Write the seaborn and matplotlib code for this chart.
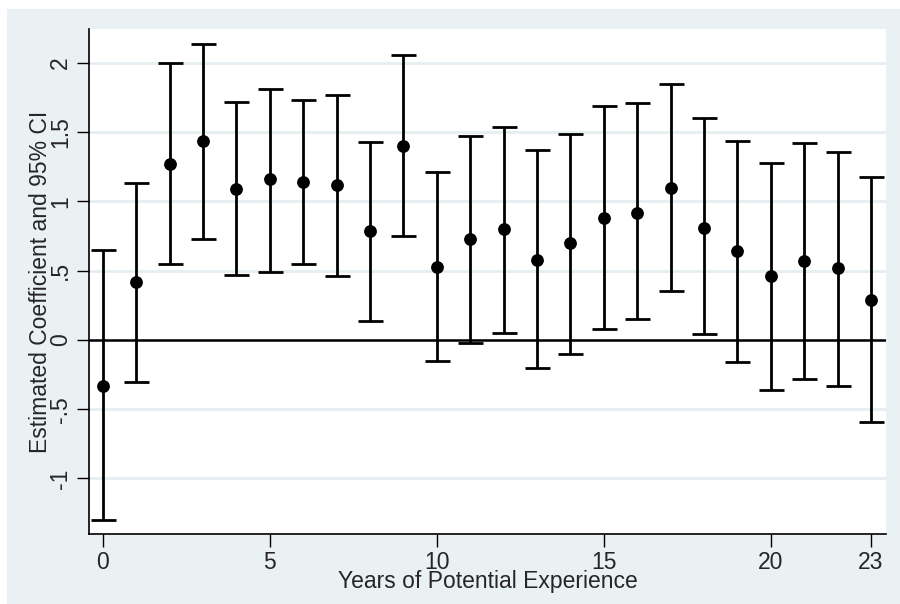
import numpy as np
import pandas as pd
import matplotlib
matplotlib.use("Agg")
import matplotlib.pyplot as plt
import seaborn as sns
from matplotlib.patches import Rectangle

# years of potential experience
years = list(range(24))
# point estimates
coef = [-0.33, 0.42, 1.27, 1.44, 1.09, 1.16, 1.14, 1.12, 0.79, 1.40, 0.53, 0.73,
        0.80, 0.58, 0.70, 0.88, 0.92, 1.10, 0.81, 0.64, 0.46, 0.57, 0.52, 0.29]
# 95% CI bounds
ci_low = [-1.30, -0.30, 0.55, 0.73, 0.47, 0.49, 0.55, 0.46, 0.14, 0.75, -0.15, -0.02,
          0.05, -0.20, -0.10, 0.08, 0.15, 0.35, 0.04, -0.16, -0.36, -0.28, -0.33, -0.59]
ci_high = [0.65, 1.13, 2.00, 2.14, 1.72, 1.81, 1.73, 1.77, 1.43, 2.06, 1.21, 1.47,
           1.54, 1.37, 1.49, 1.69, 1.71, 1.85, 1.60, 1.44, 1.28, 1.42, 1.36, 1.18]

xticks = [0, 5, 10, 15, 20, 23]
yticks = [-1, -0.5, 0, 0.5, 1, 1.5, 2]
ytick_labels = ["-1", "-.5", "0", ".5", "1", "1.5", "2"]

df = pd.DataFrame({"year": years, "coef": coef, "lo": ci_low, "hi": ci_high})

sns.set_style("white")
plt.rcParams['font.family'] = ['Liberation Sans', 'DejaVu Sans']

bg = "#eaf1f3"
fs = 16.5
fig = plt.figure(figsize=(9, 6.04), dpi=100)
fig.patch.set_facecolor("white")
fig.patches.append(Rectangle((7 / 900, 0), 1 - 7 / 900, 1 - 9 / 604,
                             transform=fig.transFigure, facecolor=bg,
                             edgecolor="none", zorder=-10))

ax = fig.add_axes([89 / 900, 1 - 534.3 / 604, (886 - 89) / 900, (534.3 - 29.3) / 604])
ax.set_facecolor("white")

# grid lines
for t in yticks:
    ax.axhline(t, color="#e5eef0", lw=2, zorder=0)
ax.axhline(0, color="black", lw=1.8, zorder=1)

ax.errorbar(df["year"], df["coef"],
            yerr=[df["coef"] - df["lo"], df["hi"] - df["coef"]],
            fmt="none", ecolor="black", elinewidth=2, capsize=9, capthick=2, zorder=2)
sns.scatterplot(data=df, x="year", y="coef", ax=ax, color="black", s=85,
                edgecolor="black", linewidth=0, zorder=3)

ax.set_xlim(-0.41, 23.45)
ax.set_ylim(-1.403, 2.243)
ax.set_xticks(xticks)
ax.set_xticklabels([str(t) for t in xticks], fontsize=fs)
ax.set_yticks(yticks)
ax.set_yticklabels(ytick_labels, fontsize=fs, rotation=90, va="center")
ax.tick_params(axis="both", direction="out", length=9, width=1, color="black",
               left=True, bottom=True, pad=3)

for s in ["top", "right"]:
    ax.spines[s].set_visible(False)
for s in ["left", "bottom"]:
    ax.spines[s].set_color("black")
    ax.spines[s].set_linewidth(1.2)

ax.set_xlabel("Years of Potential Experience", fontsize=fs)
ax.xaxis.set_label_coords(0.5, -0.071)
ax.set_ylabel("Estimated Coefficient and 95% CI", fontsize=fs)
ax.yaxis.set_label_coords(-0.046, 0.5)

fig.savefig("out.png", dpi=100, facecolor=fig.get_facecolor())
